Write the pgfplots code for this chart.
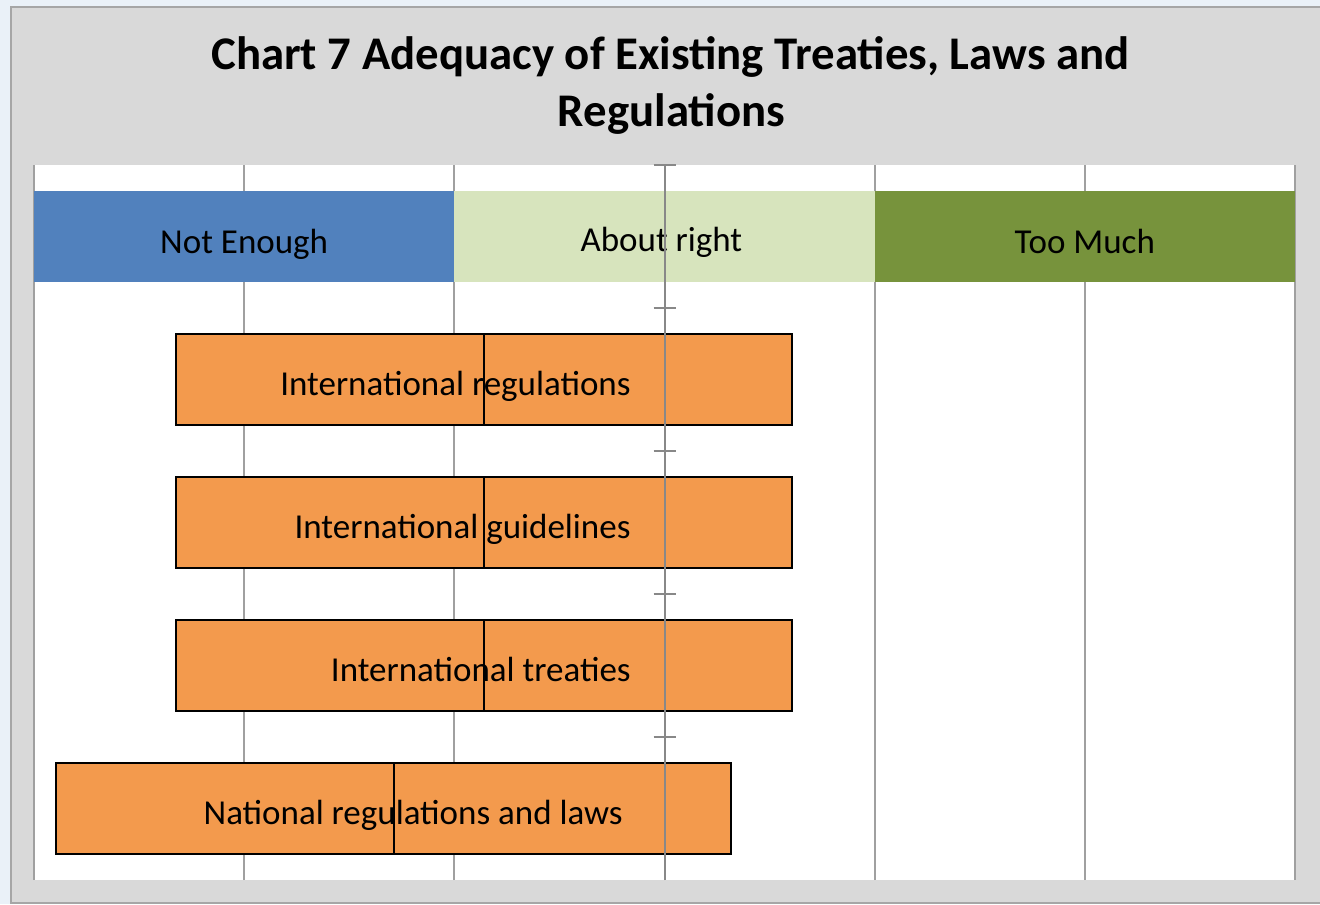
\documentclass[border=0pt]{standalone}
\usepackage{pgfplots}
\usepackage{pgfplotstable}
\pgfplotsset{compat=1.18}
\usepackage{fontspec}
\setmainfont{Carlito}
\definecolor{bgGray}{HTML}{D9D9D9}
\definecolor{frameGray}{HTML}{A6A6A6}
\definecolor{gridGray}{HTML}{A0A0A0}
\definecolor{axGray}{HTML}{888888}
\definecolor{neBlue}{HTML}{5181BD}
\definecolor{arGreen}{HTML}{D7E4BD}
\definecolor{tmGreen}{HTML}{77933C}
\definecolor{barOrange}{HTML}{F39A4D}
\definecolor{edgeBlue}{HTML}{EAF1F8}

\pgfplotstableread{
y start ne ar tm
4.5 -3 2 2 2
}\headdata

\pgfplotstableread{
y start lo hi
3.5 -2.324 1.466 1.466
2.5 -2.324 1.466 1.466
1.5 -2.324 1.466 1.466
0.5 -2.895 1.608 1.605
}\rangedata

\pgfplotsset{
  base/.style={
    at={(0pt,0pt)}, anchor=south west,
    scale only axis, width=630.5pt, height=357.5pt,
    xmin=-3, xmax=3, ymin=0, ymax=5,
    clip=false,
  },
}

\begin{document}
\begin{tikzpicture}
\useasboundingbox (-17pt,-12pt) rectangle (643pt,440pt);
\fill[edgeBlue] (-17pt,-12pt) rectangle (643pt,440pt);
\fill[bgGray] (-11.5pt,-11.5pt) rectangle (646pt,436.5pt);
\draw[frameGray, line width=1pt] (646pt,-11.5pt) -- (-11.5pt,-11.5pt) -- (-11.5pt,436.5pt) -- (646pt,436.5pt);
\node[anchor=base, inner sep=0pt, font=\fontsize{23.4}{28.5}\selectfont\bfseries] at (318.25pt,405pt) {Chart 7 Adequacy of Existing Treaties, Laws and};
\node[anchor=base, inner sep=0pt, font=\fontsize{23.4}{28.5}\selectfont\bfseries] at (318.75pt,376.75pt) {Regulations};

% header band + grid
\begin{axis}[
  base,
  xbar stacked, stack negative=on previous, bar width=0.643,
  axis background/.style={fill=white},
  axis line style={draw=none},
  xtick={-3,...,3}, xticklabels={},
  ytick=\empty,
  major tick length=0pt,
  xmajorgrids,
  x grid style={gridGray, line width=1pt},
]
\addplot[draw=none, fill=none] table[x=start, y=y] {\headdata};
\addplot[draw=none, fill=neBlue] table[x=ne, y=y] {\headdata};
\addplot[draw=none, fill=arGreen] table[x=ar, y=y] {\headdata};
\addplot[draw=none, fill=tmGreen] table[x=tm, y=y] {\headdata};
\end{axis}

% range bars
\begin{axis}[
  base,
  xbar stacked, stack negative=on previous, bar width=0.643,
  hide axis,
]
\addplot[draw=none, fill=none] table[x=start, y=y] {\rangedata};
\addplot[draw=black, line width=1pt, fill=barOrange] table[x=lo, y=y] {\rangedata};
\addplot[draw=black, line width=1pt, fill=barOrange] table[x=hi, y=y] {\rangedata};
\end{axis}

% header labels
\begin{axis}[base, hide axis]
\node[anchor=base, inner sep=0pt, font=\fontsize{17.5}{20}\selectfont] at (axis cs:-2,4.38) {Not Enough};
\node[anchor=base, inner sep=0pt, font=\fontsize{17.5}{20}\selectfont] at (axis cs:-0.015,4.395) {About right};
\node[anchor=base, inner sep=0pt, font=\fontsize{17.5}{20}\selectfont] at (axis cs:2,4.38) {Too Much};
\end{axis}

% centre axis line, ticks and category labels
\begin{axis}[
  base,
  axis lines=center,
  x axis line style={draw=none},
  xtick=\empty,
  y axis line style={draw=axGray, line width=1pt, -},
  ytick={0,...,5}, yticklabels={},
  ytick align=center,
  major tick length=11pt,
  ytick style={axGray, line width=1pt},
  extra y ticks={0.5,1.5,2.5,3.5},
  extra y tick labels={National regulations and laws\kern4pt,International treaties,International guidelines,International regulations},
  extra y tick style={major tick length=0pt, yticklabel style={anchor=base east, inner sep=0pt, xshift=-16.75pt, yshift=-8pt, font=\fontsize{17.5}{20}\selectfont}},
]
\end{axis}
\end{tikzpicture}
\end{document}
